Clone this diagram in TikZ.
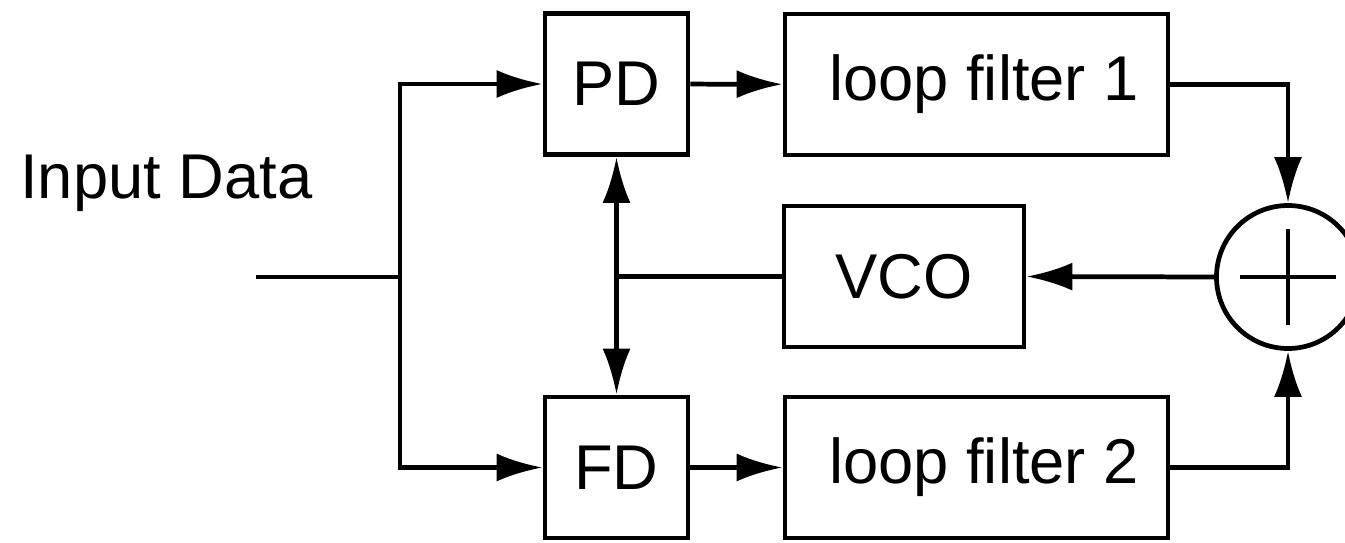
\documentclass[tikz,border=0pt]{standalone}
\usepackage{fontspec}
\setmainfont{Liberation Sans}
\usetikzlibrary{arrows.meta,positioning,calc}

\begin{document}
\begin{tikzpicture}[>={Latex[length=4.6mm,width=2.8mm]},line width=1.35pt,
box/.style={draw,minimum height=14.1mm,inner sep=0pt,font=\fontsize{18}{20}\selectfont},
sum/.style={draw,circle,minimum size=14.3mm,inner sep=0pt}]
\useasboundingbox (0,0) rectangle (13.45,5.42);
\node[box,minimum width=14.3mm] (pd) at (6.165,4.58) {PD};
\node[box,minimum width=38.3mm] (lf1) at (9.765,4.575) {\hspace*{1.5mm}loop filter 1};
\node[box,minimum width=24mm] (vco) at (9.04,2.655) {VCO};
\node[box,minimum width=14.3mm] (fd) at (6.165,0.745) {FD};
\node[box,minimum width=38.3mm] (lf2) at (9.765,0.745) {\hspace*{1.5mm}loop filter 2};
\node[sum] (sum) at (12.88,2.65) {};
\node[anchor=base west,inner sep=0pt,font=\fontsize{18}{20}\selectfont] (label) at (0.18,3.44) {Input Data};
\coordinate (in) at (2.56,2.65);
\coordinate (split) at (4.0,2.65);
% adder sign
\draw ($(sum.center)+(-0.48,0)$) -- ($(sum.center)+(0.48,0)$);
\draw ($(sum.center)+(0,-0.48)$) -- ($(sum.center)+(0,0.48)$);
\draw (in) -- (split);
\draw[->] (split) |- (pd.west);
\draw[->] (split) |- (fd.west);
\draw[->] (pd) -- (lf1);
\draw[->] (fd) -- (lf2);
\draw[->] (lf1.east) -| (sum.north);
\draw[->] (lf2.east) -| (sum.south);
\draw[->] (sum.west) -- (vco.east);
\draw[<->] (pd.south) -- (fd.north);
\draw (vco.west) -- (vco.west -| pd.south);
\end{tikzpicture}
\end{document}
